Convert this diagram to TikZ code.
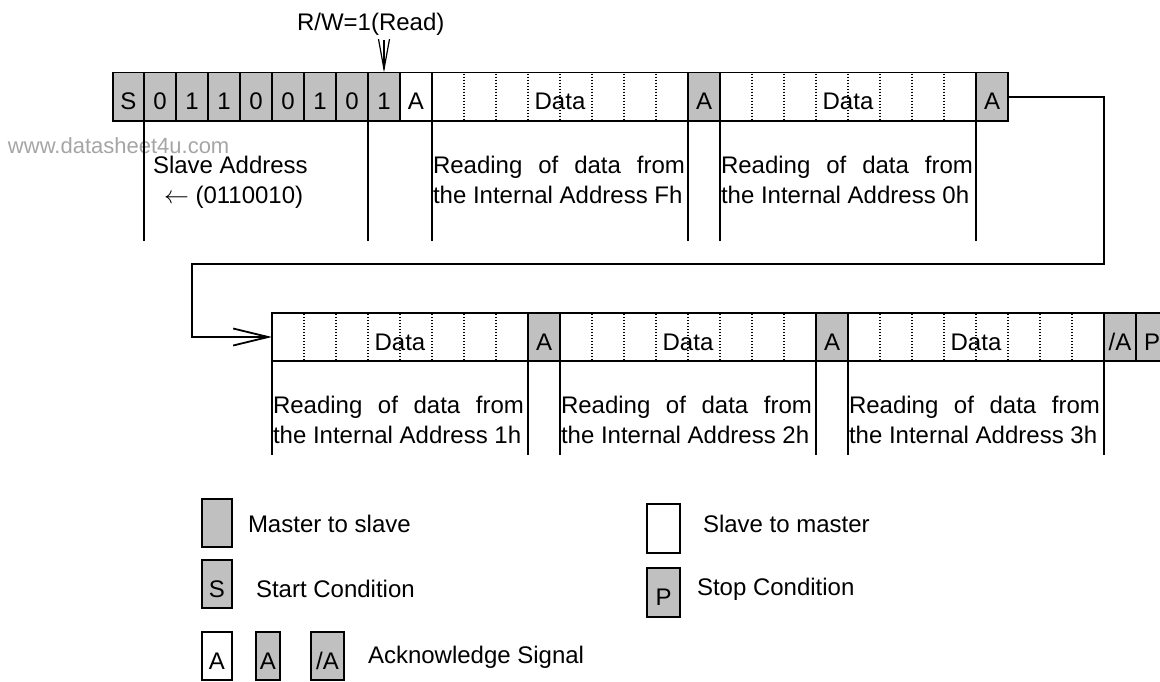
\documentclass[tikz,border=0pt]{standalone}
\usepackage{fontspec}
\setmainfont{Liberation Sans}
\usetikzlibrary{arrows.meta,calc}
\definecolor{cellgray}{RGB}{192,192,192}
\definecolor{wmgray}{RGB}{165,165,165}
\begin{document}
\begin{tikzpicture}[x=1pt,y=-1pt,
  font=\fontsize{24}{30}\selectfont,
  cell/.style={draw, line width=1.7pt, minimum height=48.5pt, inner sep=0pt, outer sep=0pt,
               text height=26pt, text depth=0pt, anchor=west},
  gcell/.style={cell, fill=cellgray},
  wcell/.style={cell, fill=white},
  lgbox/.style={draw, line width=1.6pt, minimum height=48pt, inner sep=0pt, outer sep=0pt,
               text height=26pt, text depth=0pt, anchor=center},
  txt/.style={inner sep=0pt, outer sep=0pt, anchor=base west},
  dotline/.style={line width=1.5pt, dash pattern=on 1.4pt off 1.6pt},
  drop/.style={line width=1.6pt},
  conn/.style={line width=1.8pt, -{Straight Barb[length=35pt,width=17pt,line width=1.8pt]}},
]
\useasboundingbox (0,0) rectangle (1160,681);
\clip (0,0) rectangle (1160,681);

% watermark
\node[txt, text=wmgray, font=\fontsize{22}{24}\selectfont] (wm) at (8,153) {www.datasheet4u.com};

% ---- row 1 ----
\node[gcell, minimum width=31pt] (s) at (113,96.75) {S};
\node[gcell, minimum width=32pt] (b1) at (s.east) {0};
\node[gcell, minimum width=32pt] (b2) at (b1.east) {1};
\node[gcell, minimum width=32pt] (b3) at (b2.east) {1};
\node[gcell, minimum width=32pt] (b4) at (b3.east) {0};
\node[gcell, minimum width=32pt] (b5) at (b4.east) {0};
\node[gcell, minimum width=32pt] (b6) at (b5.east) {1};
\node[gcell, minimum width=32pt] (b7) at (b6.east) {0};
\node[gcell, minimum width=32pt] (b8) at (b7.east) {1};
\node[wcell, minimum width=32pt] (a1) at (b8.east) {A};
\node[wcell, minimum width=256pt] (d1) at (a1.east) {Data\hspace{8pt}};
\node[gcell, minimum width=32pt] (a2) at (d1.east) {A};
\node[wcell, minimum width=256pt] (d2) at (a2.east) {Data\hspace{8pt}};
\node[gcell, minimum width=32pt] (a3) at (d2.east) {A};

% ---- row 2 ----
\node[wcell, minimum width=256pt] (e1) at (272,337) {Data\hspace{8pt}};
\node[gcell, minimum width=32pt] (f1) at (e1.east) {A};
\node[wcell, minimum width=256pt] (e2) at (f1.east) {Data\hspace{8pt}};
\node[gcell, minimum width=32pt] (f2) at (e2.east) {A};
\node[wcell, minimum width=256pt] (e3) at (f2.east) {Data\hspace{8pt}};
\node[gcell, minimum width=32pt] (na) at (e3.east) {/A};
\node[gcell, minimum width=32pt] (p) at (na.east) {P};

% dotted bit separators
\foreach \n in {d1,d2,e1,e2,e3}{
  \foreach \i in {1,...,7}{
    \draw[dotline] ($(\n.north west)+(32*\i,1)$) -- ($(\n.south west)+(32*\i,-1)$);
  }
}

% drop lines
\foreach \n in {b1,b8,d1,a2,d2,a3}{
  \draw[drop] (\n.south west) -- ++(0,120);
}
\foreach \n in {e1,f1,e2,f2,e3,na}{
  \draw[drop] (\n.south west) -- ++(0,94);
}

% R/W marker
\node[txt] (rwl) at (297,30) {R/W=1(Read)};
\coordinate (rw) at (384,40);
\draw[line width=1.2pt, -{Straight Barb[length=30pt,width=11pt,line width=1.2pt]}] (rw) -- (b8.north);

% connector between the rows
\coordinate (k1) at (1104,264);
\coordinate (k2) at (192,264);
\draw[conn] (a3.east) -| (k1) -- (k2) |- (e1.west);

% field descriptions row 1
\node[txt] (sa1) at (153,173) {Slave Address};
\node[txt] (sa2) at (164,203) {$\leftarrow$ (0110010)};
\node[txt] (r1a) at (433,173) {\makebox[252pt][s]{Reading of data from}};
\node[txt] (r1b) at (433,203) {the Internal Address Fh};
\node[txt] (r2a) at (721,173) {\makebox[252pt][s]{Reading of data from}};
\node[txt] (r2b) at (721,203) {the Internal Address 0h};

% field descriptions row 2
\node[txt] (r3a) at (273,413) {\makebox[251pt][s]{Reading of data from}};
\node[txt] (r3b) at (273,443) {the Internal Address 1h};
\node[txt] (r4a) at (561,413) {\makebox[251pt][s]{Reading of data from}};
\node[txt] (r4b) at (561,443) {the Internal Address 2h};
\node[txt] (r5a) at (849,413) {\makebox[251pt][s]{Reading of data from}};
\node[txt] (r5b) at (849,443) {the Internal Address 3h};

% legend
\node[lgbox, fill=cellgray, minimum width=30pt] (lm) at (217,523) {};
\node[txt] (lmt) at (248,532) {Master to slave};
\node[lgbox, fill=white, minimum width=33pt, minimum height=49pt] (ls) at (663.5,528.5) {};
\node[txt] (lst) at (703,532) {Slave to master};
\node[lgbox, fill=cellgray, minimum width=30pt] (lst2) at (217,584) {S};
\node[txt] (lstt) at (256,597) {Start Condition};
\node[lgbox, fill=cellgray, minimum width=33pt, minimum height=49pt] (lp) at (663.5,592.5) {P};
\node[txt] (lpt) at (697,595) {Stop Condition};
\node[lgbox, fill=white, minimum width=30pt] (la1) at (217,656) {A};
\node[lgbox, fill=cellgray, minimum width=24pt] (la2) at (268,656) {A};
\node[lgbox, fill=cellgray, minimum width=33pt] (la3) at (327.5,656) {/A};
\node[txt] (lat) at (368,663) {Acknowledge Signal};
\end{tikzpicture}
\end{document}
